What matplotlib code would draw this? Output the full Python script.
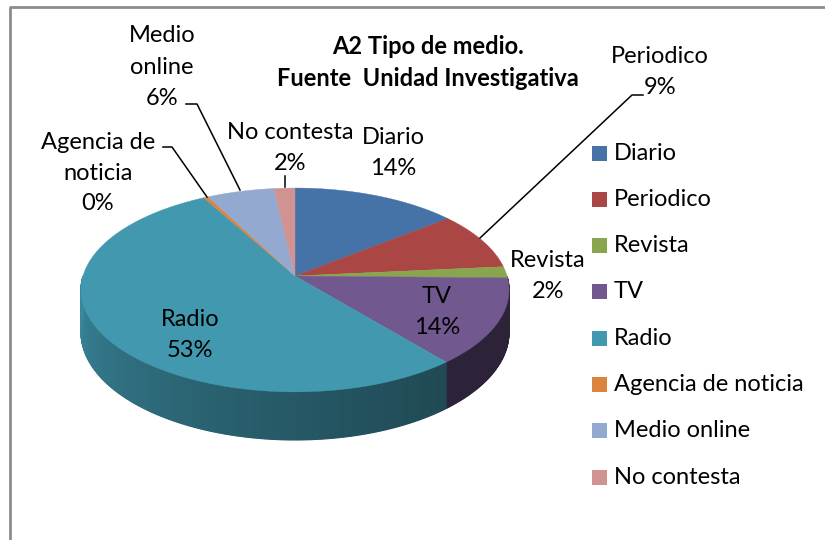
import numpy as np
import matplotlib
matplotlib.use("Agg")
import matplotlib.pyplot as plt
from matplotlib.patches import Polygon, Rectangle
from matplotlib.colors import to_rgb

# ---- data ----
categories = ["Diario", "Periodico", "Revista", "TV", "Radio",
              "Agencia de noticia", "Medio online", "No contesta"]
values = [14.3, 9.2, 1.8, 13.7, 53.0, 0.4, 5.8, 1.8]
colors = ["#4572A7", "#AA4643", "#89A54E", "#71588F", "#4198AF",
          "#DB843D", "#93A9CF", "#D19392"]
title_lines = ["A2 Tipo de medio.", "Fuente  Unidad Investigativa"]

FONT = ["Lato", "DejaVu Sans"]

fig = plt.figure(figsize=(8.25, 5.4), dpi=100)
ax = fig.add_axes([0, 0, 1, 1])
ax.set_xlim(0, 825)
ax.set_ylim(540, 0)
ax.axis("off")

# chart border
ax.plot([9.5, 9.5, 830], [545, 7, 7], color="#8c8c8c", lw=2, solid_capstyle="butt")

# ---- 3D pie projection ----
cx, cy = 295, 276
A, B, k, H = 212, 100, 0.137, 41.5


def proj(theta_deg):
    t = np.radians(theta_deg)
    X, Z = np.sin(t), np.cos(t)
    w = 1 + k * Z
    return cx + A * X / w, cy - B * Z / w, H / w


total = sum(values)
bounds = np.concatenate([[0], np.cumsum(values)]) / total * 360.0


def darken(c, f):
    r, g, b = to_rgb(c)
    return (min(r * f, 1), min(g * f, 1), min(b * f, 1))


# sides (front half, theta in [90, 270])
for i, c in enumerate(colors):
    a0, a1 = bounds[i], bounds[i + 1]
    lo, hi = max(a0, 90), min(a1, 270)
    if hi <= lo:
        continue
    ts = np.linspace(lo, hi, max(int((hi - lo) * 2), 2))
    for j in range(len(ts) - 1):
        xa, ya, da = proj(ts[j])
        xb, yb, db = proj(ts[j + 1])
        tm = 0.5 * (ts[j] + ts[j + 1])
        f = 0.42 + 0.48 * ((tm - 90) / 180.0) ** 1.6
        if i == 3:
            f = 0.40
        col = darken(c, f)
        poly = Polygon([(xa, ya), (xb, yb), (xb, yb + db), (xa, ya + da)],
                       closed=True, facecolor=col, edgecolor=col, lw=0.8)
        ax.add_patch(poly)

# top faces
for i, c in enumerate(colors):
    a0, a1 = bounds[i], bounds[i + 1]
    ts = np.linspace(a0, a1, max(int((a1 - a0) * 2), 2))
    pts = [(cx, cy)] + [proj(t)[:2] for t in ts]
    ax.add_patch(Polygon(pts, closed=True, facecolor=c, edgecolor=c, lw=0.3))

# ---- labels ----
fs = 17
lab = [f"{round(v)}%" for v in values]
txt = dict(fontsize=fs, family=FONT, color="black", ha="center", va="center",
           linespacing=1.55)
ax.text(393, 153, f"{categories[0]}\n{lab[0]}", **txt)
ax.text(660, 72, f"{categories[1]}\n{lab[1]}", **txt)
ax.text(548, 276, f"{categories[2]}\n{lab[2]}", **txt)
ax.text(437, 312, f"{categories[3]}\n{lab[3]}", **txt)
ax.text(190, 335, f"{categories[4]}\n{lab[4]}", **txt)
ax.text(98, 173, "Agencia de\nnoticia\n" + lab[5], **txt)
ax.text(162, 67, "Medio\nonline\n" + lab[6], **dict(txt, linespacing=1.62))
ax.text(290, 148, f"{categories[7]}\n{lab[7]}", **txt)

# leader lines
lk = dict(color="black", lw=1.1)
ax.plot([643, 632, 480], [95, 95, 238], **lk)
ax.plot([163, 172, 207], [147, 147, 197], **lk)
ax.plot([186, 197, 240], [104, 104, 190], **lk)
ax.plot([285, 285], [176, 187], **lk)

# title
for y, s in zip([47, 78], title_lines):
    ax.text(428, y, s, fontsize=17, family=FONT, fontweight="bold",
            ha="center", va="center")

# legend
for i, (c, name) in enumerate(zip(colors, categories)):
    y = 153 + i * 46.3
    ax.add_patch(Rectangle((592, y - 7.5), 15, 15, facecolor=c, edgecolor="none"))
    ax.text(614, y, name, fontsize=fs, family=FONT, ha="left", va="center")

fig.savefig("out.png", dpi=100)
